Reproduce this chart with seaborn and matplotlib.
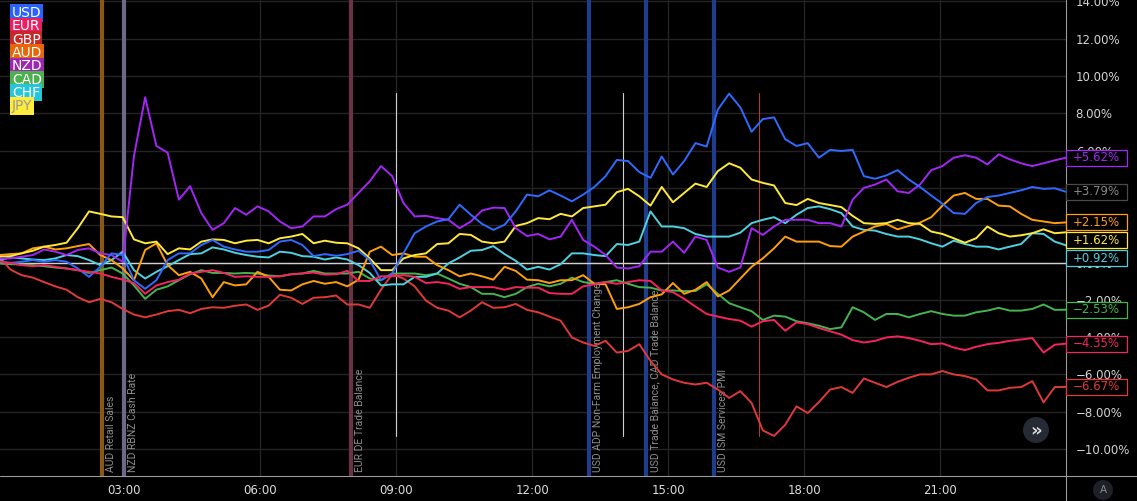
import numpy as np
import pandas as pd
import matplotlib.pyplot as plt
import matplotlib.transforms as mtransforms
from matplotlib.patches import Rectangle, Circle
from matplotlib.lines import Line2D
import seaborn as sns

# currency strength, % change since session start, sampled every ~15 min
currencies = ["USD", "EUR", "GBP", "AUD", "NZD", "CAD", "CHF", "JPY"]
line_colors = ["#2F6BFF", "#F5245E", "#E0393A", "#FF9F0A", "#A326F5", "#46B450", "#4FD1E0", "#FFE83A"]
legend_colors = ["#2962FF", "#E91E63", "#C62828", "#E8650A", "#9C27B0", "#4CAF50", "#26C6DA", "#FFEB3B"]
start_hour, end_hour = 0.24, 23.77

usd = [0.04, -0.02, 0.04, 0.13, 0.04, 0.13, 0.04, -0.32, -0.77, -0.23, 0.49, 0.40, -0.95, -1.41, -0.95, 0.13,
       0.49, 0.49, 0.94, 1.21, 0.85, 0.70, 0.58, 0.58, 0.67,
       1.12, 1.21, 0.94, 0.34, 0.45, 0.36, 0.45, 0.63, 0.13, -0.95, -0.59, 0.49, 1.57, 1.93, 2.20, 2.32,
       3.10, 2.56, 2.07, 1.75, 2.02, 2.74, 3.64,
       3.55, 3.87, 3.59, 3.28, 3.64, 4.05, 4.63, 5.50, 5.44, 4.85, 4.54, 5.68, 4.72, 5.44, 6.40, 6.22,
       8.20, 9.05, 8.32, 7.01, 7.69, 7.78, 6.61,
       6.25, 6.40, 5.62, 6.04, 5.98, 6.04, 4.63, 4.49, 4.67, 4.95, 4.45, 4.05, 3.59, 3.15, 2.65, 2.61,
       3.19, 3.51, 3.59, 3.73, 3.87, 4.05, 3.95, 3.98, 3.79]
eur = [0.04, -0.02, -0.14, -0.20, -0.14, -0.23, -0.32, -0.41, -0.50, -0.59, -0.77, -0.92, -1.10, -1.68,
       -1.23, -1.05, -0.92, -0.59, -0.50, -0.41, -0.56, -0.77, -0.74, -0.77, -0.77,
       -0.74, -0.63, -0.59, -0.54, -0.65, -0.63, -0.45, -0.99, -0.99, -0.74, -0.74, -0.68, -0.77, -1.10,
       -1.05, -1.14, -1.41, -1.32, -1.32, -1.32, -1.46, -1.32, -1.35,
       -1.35, -1.64, -1.68, -1.68, -1.28, -1.17, -1.05, -1.14, -1.05, -0.95, -0.99, -1.50, -1.59, -1.95,
       -2.36, -2.76, -2.90, -3.03, -3.12, -3.44, -3.15, -3.08, -3.66,
       -3.21, -3.30, -3.51, -3.69, -3.87, -4.16, -4.29, -4.20, -4.02, -3.96, -4.05, -4.20, -4.38, -4.34,
       -4.56, -4.70, -4.52, -4.38, -4.31, -4.20, -4.13, -4.05, -4.83, -4.41, -4.35]
gbp = [0.31, -0.38, -0.68, -0.81, -1.05, -1.28, -1.46, -1.86, -2.13, -1.95, -2.13, -2.49, -2.79, -2.94,
       -2.79, -2.61, -2.54, -2.72, -2.49, -2.40, -2.43, -2.32, -2.25, -2.54, -2.31,
       -1.73, -1.89, -2.22, -1.89, -1.86, -1.77, -2.25, -2.25, -2.43, -1.46, -0.63, -0.86, -1.28, -2.04,
       -2.43, -2.58, -2.94, -2.58, -2.13, -2.43, -2.40, -2.22, -2.54,
       -2.67, -2.90, -3.12, -4.02, -4.29, -4.47, -4.20, -4.83, -4.74, -4.38, -5.28, -6.00, -6.27, -6.45,
       -6.54, -6.45, -6.81, -7.26, -6.90, -7.53, -9.00, -9.30, -8.70,
       -7.71, -8.07, -7.48, -6.81, -6.68, -6.99, -6.22, -6.45, -6.68, -6.40, -6.18, -6.00, -6.00, -5.82,
       -6.00, -6.09, -6.27, -6.86, -6.86, -6.72, -6.68, -6.36, -7.50, -6.68, -6.67]
aud = [0.40, 0.45, 0.49, 0.76, 0.85, 0.70, 0.76, 0.88, 0.99, 0.40, 0.13, -0.32, -0.95, 0.67, 1.03, -0.14,
       -0.68, -0.50, -0.86, -1.86, -1.05, -1.23, -1.17, -0.50, -0.77,
       -1.46, -1.50, -1.17, -0.99, -1.14, -1.05, -1.28, -0.92, 0.58, 0.85, 0.40, 0.49, 0.31, 0.31, -0.14,
       -0.41, -0.74, -0.59, -0.74, -0.92, -0.23, -0.45, -0.92,
       -0.95, -1.10, -0.95, -0.95, -0.68, -1.14, -1.17, -2.49, -2.40, -2.22, -1.86, -1.71, -1.10, -1.68,
       -1.46, -1.05, -1.82, -1.50, -0.86, -0.23, 0.22, 0.76, 1.39,
       1.12, 1.12, 1.12, 0.88, 0.85, 1.39, 1.66, 1.93, 2.07, 1.78, 1.96, 2.14, 2.43, 3.05, 3.59, 3.73,
       3.41, 3.41, 3.05, 3.01, 2.61, 2.29, 2.20, 2.11, 2.15]
nzd = [0.22, 0.22, 0.31, 0.40, 0.70, 0.58, 0.40, 0.67, 0.76, 0.49, 0.40, 0.04,
       5.71, 8.86, 6.25, 5.89, 3.37, 4.09, 2.65, 1.75, 2.11, 2.92, 2.56, 3.01, 2.74,
       2.20, 1.84, 1.93, 2.47, 2.47, 2.86, 3.10, 3.73, 4.36, 5.17, 4.63, 3.19, 2.47, 2.50, 2.38, 2.29,
       1.84, 2.20, 2.79, 2.94, 2.92, 1.84, 1.42,
       1.53, 1.24, 1.39, 2.29, 1.21, 0.85, 0.40, -0.27, -0.32, -0.20, 0.58, 0.58, 1.12, 0.52, 1.39, 1.21,
       -0.27, -0.50, -0.27, 1.84, 1.48, 1.93, 2.29,
       2.29, 2.29, 2.11, 2.11, 1.93, 3.37, 4.00, 4.18, 4.45, 3.82, 3.73, 4.18, 4.95, 5.17, 5.62, 5.75,
       5.62, 5.26, 5.80, 5.53, 5.32, 5.17, 5.32, 5.48, 5.62]
cad = [-0.05, -0.09, -0.11, -0.14, -0.20, -0.27, -0.32, -0.41, -0.56, -0.41, -0.27, -0.59, -1.23, -1.95,
       -1.46, -1.28, -0.95, -0.63, -0.41, -0.56, -0.56, -0.59, -0.56, -0.59, -0.70,
       -0.74, -0.63, -0.59, -0.45, -0.59, -0.59, -0.59, -0.50, -0.86, -0.95, -0.59, -0.59, -0.59, -0.68,
       -0.59, -0.86, -1.14, -1.32, -1.68, -1.68, -1.86, -1.68, -1.32,
       -1.14, -1.28, -1.14, -0.81, -1.05, -1.14, -1.05, -0.95, -1.14, -1.32, -1.35, -1.50, -1.50, -1.53,
       -1.53, -1.17, -1.68, -2.18, -2.40, -2.61, -3.08, -2.85, -2.90,
       -3.15, -3.26, -3.39, -3.57, -3.48, -2.40, -2.67, -3.08, -2.76, -2.76, -2.94, -2.76, -2.61, -2.76,
       -2.85, -2.85, -2.67, -2.58, -2.43, -2.58, -2.58, -2.49, -2.25, -2.54, -2.53]
chf = [0.13, 0.27, 0.22, 0.16, 0.13, 0.22, 0.40, 0.34, 0.13, -0.14, 0.13, 0.58, -0.41, -0.86, -0.50,
       -0.20, 0.13, 0.45, 0.49, 0.81, 0.70, 0.52, 0.40, 0.31, 0.27,
       0.58, 0.52, 0.34, 0.31, 0.16, 0.27, 0.16, -0.14, -0.56, -1.23, -1.17, -1.17, -0.77, -0.77, -0.59,
       -0.05, 0.27, 0.63, 0.67, 0.88, 0.45, 0.09, -0.38,
       -0.23, -0.38, -0.09, 0.49, 0.49, 0.40, 0.34, 0.99, 0.94, 1.12, 2.74, 1.93, 1.93, 1.84, 1.53, 1.39,
       1.39, 1.39, 1.60, 2.11, 2.29, 2.43, 2.11,
       2.56, 2.92, 3.01, 2.86, 2.65, 1.93, 1.75, 1.71, 1.53, 1.39, 1.39, 1.24, 1.03, 0.85, 1.17, 0.99,
       0.85, 0.85, 0.70, 0.85, 0.99, 1.57, 1.53, 1.12, 0.92]
jpy = [0.31, 0.34, 0.49, 0.63, 0.85, 0.94, 1.06, 1.84, 2.74, 2.61, 2.47, 2.43, 1.24, 1.03, 1.12, 0.45,
       0.76, 0.70, 1.12, 1.24, 1.21, 1.03, 1.17, 1.21, 1.03,
       1.30, 1.39, 1.53, 1.03, 1.17, 1.06, 1.03, 0.76, 0.22, -0.41, -0.41, 0.22, 0.40, 0.49, 0.99, 1.03,
       1.53, 1.48, 1.12, 1.03, 1.12, 1.96, 2.11,
       2.38, 2.32, 2.61, 2.47, 2.92, 3.01, 3.10, 3.77, 3.95, 3.55, 3.05, 4.05, 3.23, 3.73, 4.23, 4.05,
       4.90, 5.32, 5.08, 4.45, 4.27, 4.13, 3.19,
       3.08, 3.41, 3.19, 3.08, 2.97, 2.50, 2.11, 2.07, 2.11, 2.29, 2.11, 2.07, 1.66, 1.53, 1.30, 1.06,
       1.30, 1.93, 1.57, 1.39, 1.46, 1.57, 1.78, 1.57, 1.62]
series = [usd, eur, gbp, aud, nzd, cad, chf, jpy]

# economic calendar events (hour, label, colour)
event_hours = [2.5, 3.0, 8.0, 13.25, 14.5, 16.0]
event_labels = ["AUD Retail Sales", "NZD RBNZ Cash Rate", "EUR DE Trade Balance",
                "USD ADP Non-Farm Employment Change", "USD Trade Balance, CAD Trade Balance",
                "USD ISM Services PMI"]
event_colors = ["#8A5716", "#6E6886", "#6B3246", "#1F3D8C", "#1F3D8C", "#1F3D8C"]
session_hours = [9.0, 14.0, 17.0]
session_colors = ["#cfcfcf", "#cfcfcf", "#b03a30"]

W, H = 1137, 501
def fx(px):
    return px / W
def fy(py):
    return 1 - py / H

hours = np.linspace(start_hour, end_hour, len(usd))
df = pd.concat([pd.DataFrame({"hour": hours, "change": s, "currency": c})
                for c, s in zip(currencies, series)])

sns.set_theme(style="dark", rc={"axes.facecolor": "black", "figure.facecolor": "black",
                                "grid.color": "#242424", "axes.edgecolor": "black"})
plt.rcParams["font.family"] = ["DejaVu Sans"]

fig = plt.figure(figsize=(W / 100, H / 100), dpi=100)
ax = fig.add_axes([0, fy(475.5), fx(1066), 1 - fy(475.5)])
pix = mtransforms.IdentityTransform()

y_top = 262.5 / 18.65
y_bot = -(475.5 - 262.5) / 18.65
ax.set_ylim(y_bot, y_top)
ax.set_xlim(0.258, end_hour)

# event bars and their labels
text_tr = mtransforms.blended_transform_factory(ax.transData, ax.transAxes)
for h, lab, c in zip(event_hours, event_labels, event_colors):
    ax.axvline(h, color=c, lw=3.0, zorder=1)
    ax.text(h, 0, lab, rotation=90, ha="center", va="bottom", color="#8f8f8f", fontsize=7.5,
            family=["Roboto", "DejaVu Sans"], zorder=1.5,
            transform=mtransforms.offset_copy(text_tr, fig=fig, x=9, y=3, units="dots"))
for h, c in zip(session_hours, session_colors):
    ax.plot([h, h], [9.09, -9.3], color=c, lw=0.8, zorder=1.2)

ax.axhline(0, color="#d0d0d0", lw=1.0, zorder=1.6)

draw_order = ["CAD", "GBP", "CHF", "AUD", "JPY", "NZD", "USD", "EUR"]
sns.lineplot(data=df, x="hour", y="change", hue="currency", hue_order=draw_order,
             palette=dict(zip(currencies, line_colors)), linewidth=1.4, legend=False,
             estimator=None, sort=False, ax=ax)

ax.set_xticks(range(3, 22, 3))
ax.set_xticklabels([f"{h:02d}:00" for h in range(3, 22, 3)])
ax.set_yticks(range(-10, 15, 2))
ax.set_yticklabels([f"{v:.2f}%".replace("-", "\u2212") for v in range(-10, 15, 2)])
ax.yaxis.tick_right()
ax.tick_params(axis="y", length=0, pad=7, labelsize=8.5, labelcolor="#d4d4d4")
ax.tick_params(axis="x", length=0, pad=6, labelsize=8.5, labelcolor="#dedede")
ax.grid(True, color="#242424", lw=1.0)
ax.set_xlabel("")
ax.set_ylabel("")
for sp in ax.spines.values():
    sp.set_visible(False)

# frame lines of the price scale
fig.add_artist(Line2D([0, 1], [fy(475.5), fy(475.5)], color="#9a9a9a", lw=0.8))
fig.add_artist(Line2D([fx(1066), fx(1066)], [0, 1], color="#9a9a9a", lw=0.8))

# legend boxes, top left
for i, (c, bc) in enumerate(zip(currencies, legend_colors)):
    tc = "#9a9a9a" if c == "JPY" else "white"
    fig.text(fx(12), fy(13 + 13.3 * i), c, color=tc, fontsize=10, ha="left", va="center",
             bbox=dict(boxstyle="square,pad=0.12", facecolor=bc, edgecolor="none"))

# last value labels on the price scale
last = [s[-1] for s in series]
order = np.argsort(last)[::-1]
prev = -100
for idx in order:
    ypx = max(262.5 - last[idx] * 18.65, prev + 18)
    prev = ypx
    c = line_colors[idx]
    ec, tc = (c, c) if currencies[idx] != "USD" else ("#4a4a4a", "#8a8a8a")
    fig.add_artist(Rectangle((1066, H - ypx - 8), 61, 16, transform=pix,
                             facecolor="black", edgecolor=ec, lw=0.9, zorder=5))
    fig.text(fx(1096.5), fy(ypx), f"{last[idx]:+.2f}%".replace("-", "\u2212"), color=tc,
             fontsize=8.5, ha="center", va="center", zorder=6)

# chart buttons
fig.add_artist(Circle((1036, H - 430), 13, transform=pix, facecolor="#262a35", edgecolor="none", zorder=5))
fig.text(fx(1036), fy(431), "\u00bb", color="#d8d8d8", fontsize=13, fontweight="bold",
         ha="center", va="center", zorder=6)
fig.add_artist(Circle((1103, H - 490), 10, transform=pix, facecolor="#1d2029", edgecolor="none", zorder=5))
fig.text(fx(1103), fy(490), "A", color="#8a8a8a", fontsize=7.5, ha="center", va="center", zorder=6)

fig.savefig("out.png", dpi=100, facecolor="black")
